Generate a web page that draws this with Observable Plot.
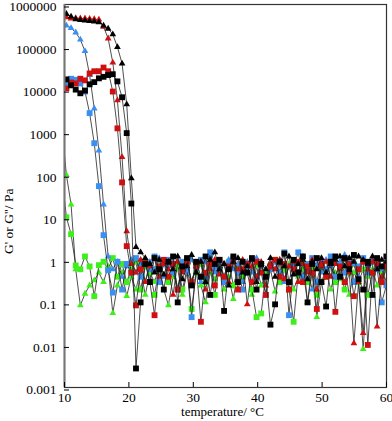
<!DOCTYPE html>
<html><head><meta charset="utf-8">
<script src="https://cdn.jsdelivr.net/npm/d3@7"></script>
<script src="https://cdn.jsdelivr.net/npm/@observablehq/plot@0.6"></script>
<style>body{margin:0;background:#fff} svg{display:block}</style>
</head><body><div id="chart"></div>
<script>
const temps = [9.58,10.30,11.02,11.74,12.46,13.18,13.90,14.62,15.34,16.06,16.78,17.50,18.22,18.94,19.66,20.38,21.10,21.82,22.54,23.26,23.98,24.70,25.42,26.14,26.86,27.58,28.30,29.02,29.74,30.46,31.18,31.90,32.62,33.34,34.06,34.78,35.50,36.22,36.94,37.66,38.38,39.10,39.82,40.54,41.26,41.98,42.70,43.42,44.14,44.86,45.58,46.30,47.02,47.74,48.46,49.18,49.90,50.62,51.34,52.06,52.78,53.50,54.22,54.94,55.66,56.38,57.10,57.82,58.54,59.26,59.98];

const blackTri = [650000,600000,520000,450000,430000,420000,410000,400000,380000,320000,270000,198000,100000,41000,4500,82,2.0,1.5,1.1,
0.8,0.5,1.0,0.45,0.9,0.6,1.2,0.35,0.7,1.3,0.5,0.9,0.3,1.0,1.5,0.6,0.8,0.25,0.9,1.1,0.5,0.7,1.0,0.3,0.8,0.6,1.1,0.4,0.9,0.7,1.2,0.45,0.8,1.0,0.35,0.9,0.6,1.1,0.5,0.8,1.0,1.2,0.7,1.1,0.9,1.2,1.0,0.8,1.2,0.6,1.0,0.9];
const blackSq = [20000,17400,12600,10000,8200,9500,13300,15000,18400,20000,22000,23000,15600,6600,950,21,0.0028,
0.1,0.8,0.3,1.1,0.6,0.2,0.9,1.2,0.1,0.7,1.1,0.25,0.9,0.4,1.2,0.15,0.8,1.0,0.063,0.6,1.2,0.3,0.9,0.5,1.1,0.2,0.8,0.4,0.03,0.09,0.9,1.4,0.3,1.0,0.5,1.2,0.1,0.8,1.1,0.3,0.08,0.9,1.2,0.4,1.1,0.6,1.3,0.35,0.2,0.9,0.15,1.1,0.7,1.2];
const redTri = [520000,500000,470000,480000,470000,470000,460000,450000,440000,300000,159000,43000,5600,260,4.7,
0.8,0.5,1.0,0.3,0.7,1.1,0.4,0.8,0.6,0.15,0.9,0.5,1.0,0.3,0.7,0.9,0.2,0.6,1.0,0.45,0.8,0.3,0.9,0.6,1.0,0.09,0.7,0.4,0.9,0.25,0.8,0.6,1.0,0.35,0.7,0.9,0.3,0.8,0.5,1.0,0.2,0.7,0.9,0.4,0.8,0.6,1.0,0.5,0.011,0.3,0.019,0.6,0.9,0.027,0.4,0.8];
const redSq = [9000,10700,14700,14000,18000,16500,24000,27000,27000,33000,27000,9000,1230,66,2.1,
0.5,0.085,0.6,0.9,0.3,0.05,0.7,1.0,0.4,0.8,0.2,0.6,0.9,0.3,0.7,0.035,0.5,0.8,0.25,1.0,0.4,0.7,0.9,0.2,0.6,0.8,0.3,0.9,0.5,0.15,0.7,1.0,0.4,0.8,0.2,0.6,0.9,0.3,0.7,0.5,0.07,0.8,0.4,0.9,0.06,0.7,0.3,0.8,0.14,0.6,0.9,0.01,0.5,0.8,0.3,0.7];
const blueTri = [380000,320000,280000,220000,150000,80000,22000,3600,370,20,1.2,
0.6,0.9,0.4,0.7,1.0,0.5,0.8,0.3,0.9,0.6,1.1,0.4,0.7,0.9,0.2,0.8,0.5,1.0,0.6,0.3,0.9,1.2,0.5,0.7,0.4,1.0,0.6,0.8,0.3,0.9,0.5,1.1,0.7,0.4,0.8,0.6,1.0,0.3,0.7,0.9,0.5,1.2,0.6,0.2,0.8,0.5,1.0,0.7,0.4,0.9,1.3,0.6,0.8,0.4,1.0,0.7,0.5,0.9,0.6,0.3];
const blueSq = [7000,14000,18000,17000,14000,9000,2800,550,54,3.8,0.57,0.17,
0.9,0.2,0.8,0.5,1.1,0.4,0.9,0.6,1.2,0.3,0.8,1.0,0.5,0.2,0.9,0.6,0.045,0.7,1.0,0.4,1.5,0.6,0.9,0.3,0.8,1.1,0.5,0.2,0.7,1.0,0.4,0.8,0.15,0.6,0.9,0.5,1.5,0.05,0.7,1.5,0.4,0.8,1.1,0.3,0.9,0.6,1.2,0.4,0.8,0.5,1.0,0.3,0.7,1.1,0.5,0.9,0.6,0.1,0.25];
const greenTri = [1300,98,20,0.6,0.085,0.16,0.25,0.33,0.5,0.3,0.7,0.056,0.25,0.5,0.14,
0.4,0.2,0.6,0.15,0.5,0.3,0.7,0.2,0.085,0.4,0.6,0.15,0.5,0.3,0.8,0.25,0.1,0.5,0.35,0.7,0.2,0.4,0.12,0.6,0.3,0.5,0.15,0.7,0.25,0.4,0.6,0.18,0.5,0.3,0.8,0.2,0.4,0.6,0.1,0.5,0.045,0.3,0.6,0.2,0.5,0.35,0.7,0.15,0.5,0.3,0.008,0.4,0.6,0.25,0.5,0.3];
const greenSq = [100,10,4,0.74,0.6,1.2,0.7,0.14,0.75,0.9,0.6,1.1,
0.4,0.8,0.3,0.6,0.9,0.2,0.7,0.5,0.15,0.6,0.9,0.3,0.5,0.8,0.2,0.6,0.07,0.5,0.8,0.3,0.6,0.15,0.7,0.4,0.9,0.25,0.6,0.4,0.8,0.2,0.045,0.055,0.5,0.7,1.0,0.3,0.6,0.2,0.035,0.5,0.8,0.3,0.6,0.15,0.7,0.4,0.9,0.3,0.6,0.2,0.5,0.8,0.3,0.6,0.15,0.5,0.7,0.3,0.6];

const yTicks = [0.001,0.01,0.1,1,10,100,1000,10000,100000,1000000];
const xTicks = [10,20,30,40,50,60];
const xLabel = "temperature/ °C";
const yLabel = "G' or G''/ Pa";

const seriesDefs = [
  {name:"greenTri", values:greenTri, color:"#3df01a", symbol:"triangle"},
  {name:"greenSq", values:greenSq, color:"#3df01a", symbol:"square"},
  {name:"blueTri", values:blueTri, color:"#3a8ff0", symbol:"triangle"},
  {name:"blueSq", values:blueSq, color:"#3a8ff0", symbol:"square"},
  {name:"redTri", values:redTri, color:"#d01010", symbol:"triangle"},
  {name:"redSq", values:redSq, color:"#d01010", symbol:"square"},
  {name:"blackTri", values:blackTri, color:"#000000", symbol:"triangle"},
  {name:"blackSq", values:blackSq, color:"#000000", symbol:"square"}
];

const marks = [];
for (const s of seriesDefs) {
  const d = s.values.map((v, i) => ({t: temps[i], v}));
  marks.push(Plot.line(d, {x: "t", y: "v", stroke: "#222", strokeWidth: 0.8, clip: true}));
  marks.push(Plot.dot(d.filter(r => r.t >= 10), {x: "t", y: "v", symbol: s.symbol, fill: s.color, r: s.symbol === "square" ? 3.3 : 2.5, clip: true}));
}

const chart = Plot.plot({
  width: 392,
  height: 421,
  marginLeft: 64,
  marginRight: 6,
  marginTop: 4,
  marginBottom: 34,
  style: {fontFamily: "'Liberation Serif', 'Times New Roman', serif", fontSize: "13.5px", color: "#000", background: "#fff"},
  x: {domain: [10, 60]},
  y: {type: "log", domain: [0.001, 1000000]},
  marks: [
    ...marks,
    Plot.frame({stroke: "#333", strokeWidth: 1.2}),
    Plot.ruleX([10], {stroke: "#777", strokeWidth: 2}),
    Plot.axisX({ticks: xTicks, tickSize: -5, tickPadding: 10, tickFormat: d => String(d), label: null, fontSize: 13.5}),
    Plot.axisY({ticks: yTicks, tickSize: -5, tickPadding: 13, tickFormat: d => String(d), label: null, fontSize: 13.5, dy: 2.5}),
    Plot.text([xLabel], {frameAnchor: "bottom", dy: 28, dx: -3, fontSize: 13}),
    Plot.text([yLabel], {frameAnchor: "left", rotate: -90, dx: -56, dy: 58, fontSize: 13.5})
  ]
});
document.getElementById("chart").appendChild(chart);
</script>
</body></html>
